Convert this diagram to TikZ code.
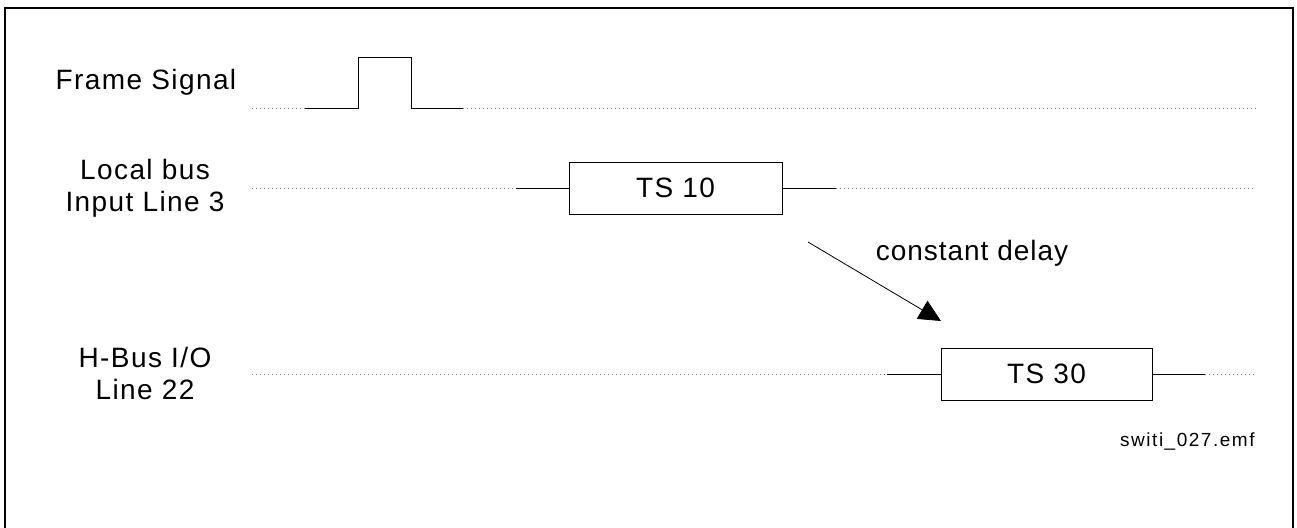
\documentclass[tikz,border=0pt]{standalone}
\usepackage{fontspec}
\setmainfont{Liberation Sans}[LetterSpace=5]
\usetikzlibrary{arrows.meta,positioning}

\begin{document}
\begin{tikzpicture}[x=0.5pt,y=-0.5pt,>={Triangle[length=11pt,width=10.5pt]},
        idle/.style={gray,line width=0.4pt,dash pattern=on 0.5pt off 1.5pt},
        wire/.style={line width=0.5pt},
        slot/.style={draw,line width=0.5pt,inner sep=0pt,minimum height=26pt,font=\fontsize{14}{16}\selectfont},
        tag/.style={align=center,font=\fontsize{14}{16}\selectfont}]
        \useasboundingbox (0,0) rectangle (1297,527);
        \begin{scope}
            \clip (0,0) rectangle (1297,527);
            \draw [line width=1pt] (5,8) rectangle (1293,545);
        \end{scope}
        % signal names
        \node [tag] (frame) at (146,82) {Frame Signal};
        \node [tag] (local) at (145,188) {Local bus\\Input Line 3};
        \node [tag] (hbus) at (145,373) {H-Bus I/O\\Line 22};
        % time slots
        \node [slot,minimum width=106.5pt] (ts10) at (675.5,188) {TS 10};
        \node [slot,minimum width=105.5pt] (ts30) at (1046.5,374) {TS 30};
        % frame pulse
        \draw [idle] (252,108) coordinate (f0) -- (305,108) coordinate (f1);
        \draw [wire] (f1) -- (358,108) -- (358,57) -- (411,57) -- (411,108) -- (463,108) coordinate (f2);
        \draw [idle] (f2) -- (1258,108);
        % local bus line
        \draw [idle] (252,188) -- (516,188) coordinate (l1);
        \draw [wire] (l1) -- (ts10.west);
        \draw [wire] (ts10.east) -- (836,188) coordinate (l2);
        \draw [idle] (l2) -- (1255,188);
        % h-bus line
        \draw [idle] (252,374) -- (887,374) coordinate (h1);
        \draw [wire] (h1) -- (ts30.west);
        \draw [wire] (ts30.east) -- (1205,374) coordinate (h2);
        \draw [idle] (h2) -- (1255,374);
        % delay
        \draw [->,line width=0.4pt] (808,242) coordinate (d0) -- (941,321) coordinate (d1);
        \node [tag,font=\fontsize{14}{16}\selectfont\addfontfeatures{LetterSpace=3.5}] (delay) at (972,253) {constant delay};
        \node [anchor=east,inner sep=0pt,font=\fontsize{9.5}{12}\selectfont\addfontfeatures{LetterSpace=8}] (file) at (1255,441) {switi\_027.emf};
    \end{tikzpicture}
\end{document}
